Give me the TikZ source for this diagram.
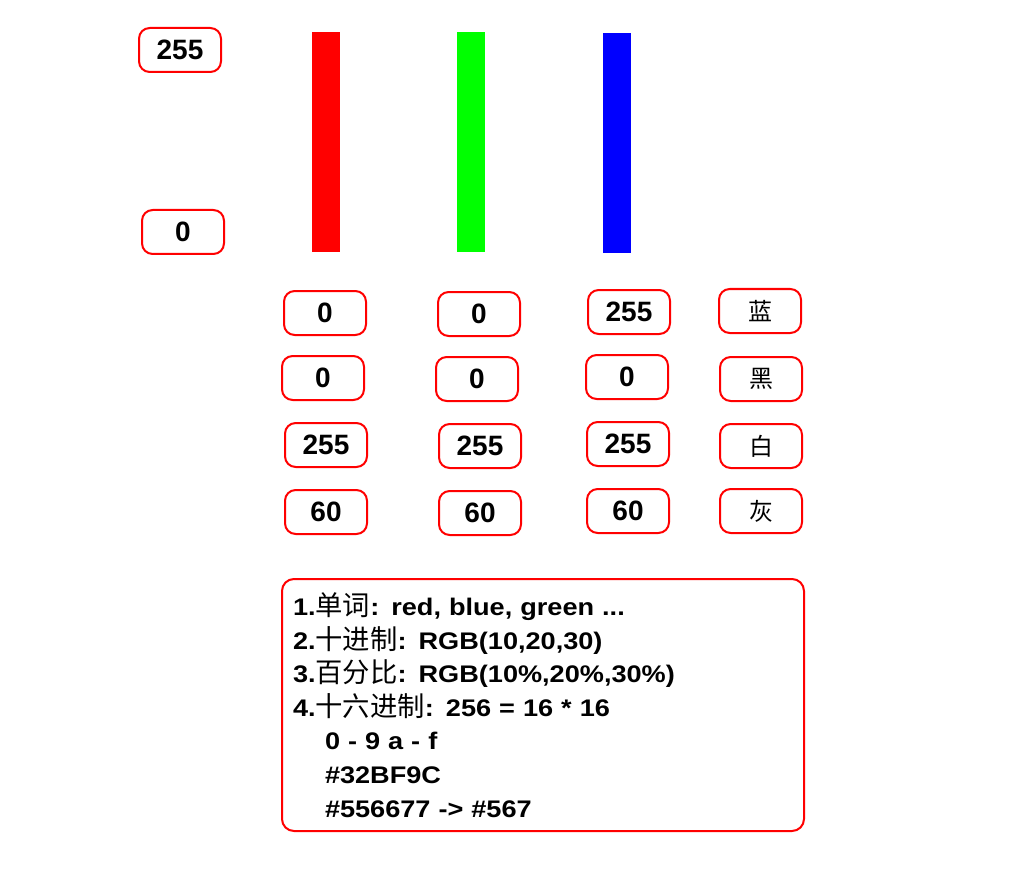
\documentclass[tikz,border=0pt]{standalone}
\usepackage{fontspec}
\setmainfont{Liberation Sans}
\newfontfamily\widesans[FakeStretch=1.13]{Liberation Sans}
\newfontfamily\cjk{Noto Sans CJK SC}
\usetikzlibrary{positioning}
\newcommand{\zh}[1]{{\cjk\mdseries\fontsize{20.5}{25.2}\selectfont #1}}

\begin{document}
\begin{tikzpicture}[x=0.75pt,y=-0.75pt,
  valbox/.style={draw=red, line width=1.5pt, rounded corners=8pt, minimum width=61.5pt, minimum height=33pt, inner sep=0pt, font=\fontsize{21}{25}\selectfont\bfseries},
  namebox/.style={valbox, font=\fontsize{18}{22}\selectfont\cjk},
  bar/.style={minimum width=21pt, minimum height=165pt, inner sep=0pt}]
\useasboundingbox (0,0) rectangle (1024,891);
\node [valbox] (top) at (180,50) {255};
\node [valbox] (bot) at (183,232) {0};
\node [bar,fill=red] (R) at (326,142.5) {};
\node [bar,fill=green] (G) at (471,142) {};
\node [bar,fill=blue] (B) at (617,143) {};
% blue
\node [valbox] (r1) at (325,313) {0};
\node [valbox] (g1) at (479,314) {0};
\node [valbox] (b1) at (629,312) {255};
\node [namebox] (n1) at (760,311) {蓝};
% black
\node [valbox] (r2) at (323,378) {0};
\node [valbox] (g2) at (477,379) {0};
\node [valbox] (b2) at (627,377) {0};
\node [namebox] (n2) at (761,379) {黑};
% white
\node [valbox] (r3) at (326,445) {255};
\node [valbox] (g3) at (480,446) {255};
\node [valbox] (b3) at (628,444) {255};
\node [namebox] (n3) at (761,446) {白};
% grey
\node [valbox] (r4) at (326,512) {60};
\node [valbox] (g4) at (480,513) {60};
\node [valbox] (b4) at (628,511) {60};
\node [namebox] (n4) at (761,511) {灰};
\node [valbox, minimum width=391.5pt, minimum height=189pt, rounded corners=9pt, inner xsep=8pt,
  text width=375pt, align=left, font=\widesans\fontsize{18}{25.2}\selectfont\bfseries] (notes) at (543,705) {%
1.\zh{单词}: red, blue, green ...\\
2.\zh{十进制}: RGB(10,20,30)\\
3.\zh{百分比}: RGB(10\%,20\%,30\%)\\
4.\zh{十六进制}: 256 = 16 * 16\\
\hspace*{24pt}0 - 9 a - f\\
\hspace*{24pt}\#32BF9C\\
\hspace*{24pt}\#556677 -> \#567};
\end{tikzpicture}
\end{document}
